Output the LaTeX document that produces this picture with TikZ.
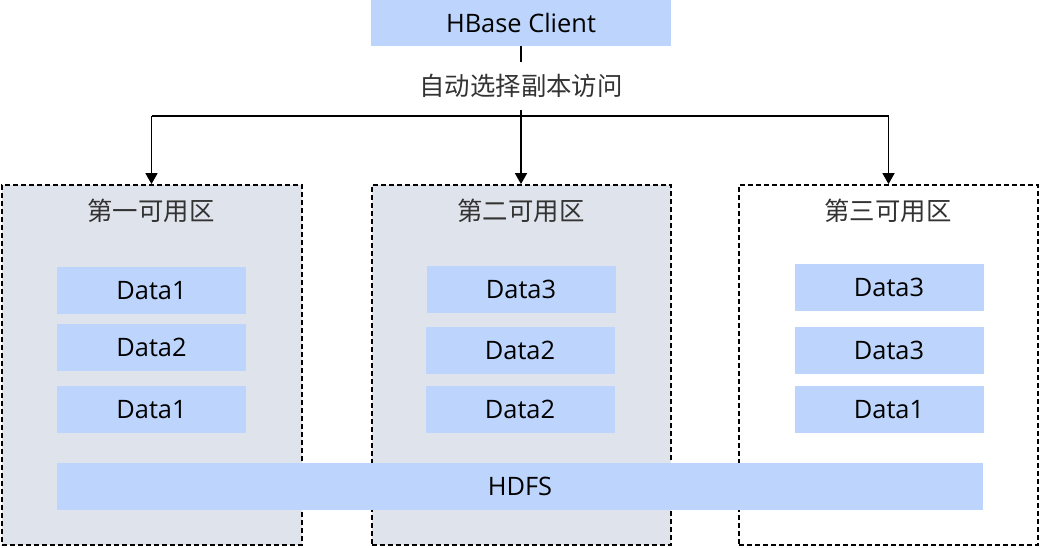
\documentclass[tikz,border=0pt]{standalone}
\usepackage{fontspec}
\setmainfont{Open Sans}
\newfontfamily\cjk{Noto Sans CJK SC}
\usepackage{tikz}
\usetikzlibrary{arrows.meta}
\usetikzlibrary{positioning}
\definecolor{boxblue}{RGB}{189,213,252}
\definecolor{zonegray}{RGB}{223,227,235}
\definecolor{labelgray}{RGB}{51,51,51}
\tikzstyle{zone}=[draw=black, line width=1.8pt, dash pattern=on 5pt off 3pt, minimum width=299pt, minimum height=360pt]
\tikzstyle{zone_title}=[text=labelgray, font=\cjk\fontsize{25.4}{29}\selectfont]
\tikzstyle{data_box}=[fill=boxblue, minimum width=189pt, minimum height=47pt, font=\fontsize{25.4}{29}\selectfont]
\tikzstyle{link}=[line width=1.6pt, -{Triangle[length=11pt,width=12pt]}]

\begin{document}
\begin{tikzpicture}[x=1pt, y=-1pt]
          \useasboundingbox (0,0) rectangle (1040,547);
          \node[zone, fill=zonegray, minimum width=300pt] (zone1) at (152,365){};
          \node[zone, fill=zonegray] (zone2) at (521.5,365){};
          \node[zone, fill=white] (zone3) at (888.5,365){};
          \node[zone_title] (title1) at (151,211){第一可用区};
          \node[zone_title] (title2) at (521,211){第二可用区};
          \node[zone_title] (title3) at (888,211){第三可用区};
          \node[data_box] (data11) at (151.5,290.5){Data1};
          \node[data_box] (data12) at (151.5,347.5){Data2};
          \node[data_box] (data13) at (151.5,409.5){Data1};
          \node[data_box] (data21) at (521,289.5){Data3};
          \node[data_box] (data22) at (520,350.5){Data2};
          \node[data_box] (data23) at (520,409.5){Data2};
          \node[data_box] (data31) at (889,287.5){Data3};
          \node[data_box] (data32) at (889,350.5){Data3};
          \node[data_box] (data33) at (889,409.5){Data1};
          \node[data_box, minimum width=926pt] (hdfs) at (520,486.5){HDFS};
          \node[data_box, minimum width=300pt, minimum height=46pt] (client) at (521,23){HBase Client};
          \node[zone_title, minimum height=48pt, inner sep=0pt] (choice) at (521,86){自动选择副本访问};
          \coordinate (bus) at (521,116);
          \draw[line width=1.6pt](client) -- (choice);
          \draw[link](choice) -- (choice |- zone2.north);
          \draw[line width=1.6pt](bus -| data11) -- (bus -| zone3);
          \draw[link](bus -| data11) -- (data11 |- zone1.north);
          \draw[link](bus -| zone3) -- (zone3);
        \end{tikzpicture}
\end{document}
